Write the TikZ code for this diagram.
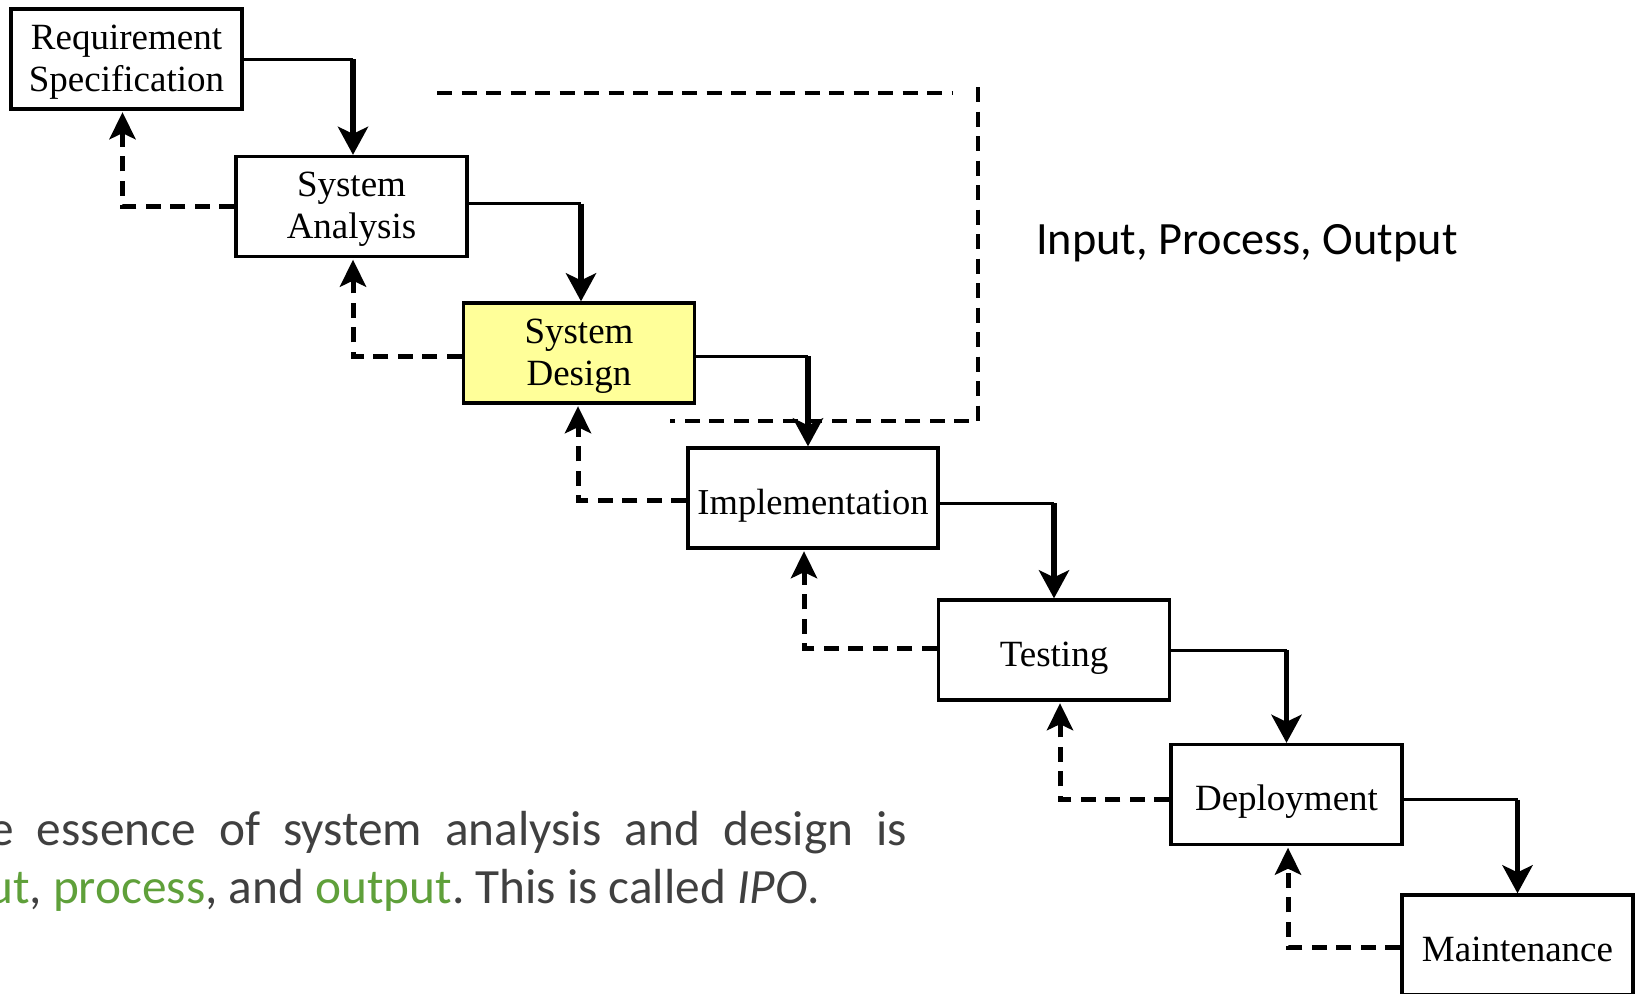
\documentclass[tikz,border=0pt]{standalone}
\usepackage{fontspec}
\usetikzlibrary{arrows.meta}
\newfontfamily\boxfont{Liberation Serif}
\newfontfamily\bodyfont{Carlito}
\definecolor{txtgray}{HTML}{404040}
\definecolor{ipogreen}{HTML}{5FA03A}
\definecolor{hilite}{HTML}{FFFF99}
% two stacked lines whose baseline is that of the first line
\newcommand{\twolines}[2]{\begin{tabular}[t]{@{}c@{}}#1\\#2\end{tabular}}

\begin{document}
\frenchspacing
\begin{tikzpicture}[x=1pt, y=-1pt,
  box/.style={draw, line width=3.3pt, minimum width=231pt, minimum height=100pt,
    inner sep=0pt, font=\boxfont\fontsize{37}{42}\selectfont},
  oneline/.style={text height=32pt, text depth=0pt},
  twoline/.style={text height=30pt, text depth=50pt},
  fwdh/.style={line width=3pt},
  fwdv/.style={line width=5.5pt, -{Stealth[length=28pt, width=30pt, inset=7pt]}},
  back/.style={line width=5pt, dash pattern=on 15pt off 9.5pt, shorten >=1.5pt,
    -{Stealth[length=27pt, width=26pt, inset=6pt]}},
  loop/.style={line width=4.2pt, dash pattern=on 15pt off 9.5pt}]

\useasboundingbox (0,0) rectangle (1638,993);

% phases of the waterfall
\node[box, twoline] (req) at (126.5,59) {\twolines{Requirement}{Specification}};
\node[box, twoline] (sa) at (351.5,206.5) {\twolines{System}{Analysis}};
\node[box, twoline, fill=hilite] (sd) at (579,353) {\twolines{System}{Design}};
\node[box, oneline, minimum width=250pt,
  font=\boxfont\fontsize{36.5}{42}\selectfont] (impl) at (813,498) {Implementation};
\node[box, oneline] (test) at (1054,650) {Testing};
\node[box, oneline] (dep) at (1286.5,794.5) {Deployment};
\node[box, oneline] (mnt) at (1517.5,945) {Maintenance};

% forward flow: thin run to the right, heavy drop onto the next phase
\foreach \a/\b/\dx/\dy in {req/sa/1.5/0, sa/sd/2/3, sd/impl/-5/-3, impl/test/0/-5,
                           test/dep/0/0, dep/mnt/0/-5} {
  \coordinate (out-\a) at ([yshift=\dy pt]\a.east);
  \coordinate (in-\b) at ([xshift=\dx pt]\b.north);
  \draw[fwdh] (out-\a) -- (out-\a -| in-\b);
  \draw[fwdv] (out-\a -| in-\b) -- (in-\b);
}

% feedback: dashed return to the previous phase
\foreach \a/\b/\dx/\dy in {sa/req/-4/0, sd/sa/1.5/-3, impl/sd/-1/-2, test/impl/-9/2,
                           dep/test/6/-5, mnt/dep/1.5/-2} {
  \coordinate (ret-\a) at ([yshift=\dy pt]\a.west);
  \coordinate (up-\b) at ([xshift=\dx pt]\b.south);
  \draw[back] (ret-\a) -| (up-\b);
}

% dashed frame round the analysis and design phases
\coordinate (fa) at (437,93);
\coordinate (fb) at (952,93);
\coordinate (fc) at (978,87);
\coordinate (fd) at (978,421);
\coordinate (fe) at (670,421);
\draw[loop] (fa) -- (fb);
\draw[loop] (fc) -- (fd) -- (fe);

\node[anchor=base west, inner sep=0pt, font=\bodyfont\fontsize{46.3}{55}\selectfont]
  (ipo) at (1036,254) {Input, Process, Output};

% explanatory text
\node[anchor=base west, inner sep=0pt, text=txtgray,
  font=\bodyfont\fontsize{49.3}{59}\selectfont] (line1) at (-11,845)
  {\hbox to 918pt{e\hfill essence\hfill of\hfill system\hfill analysis\hfill and\hfill design\hfill is}};
\node[anchor=base west, inner sep=0pt, text=txtgray,
  font=\bodyfont\fontsize{49.3}{59}\selectfont] (line2) at (-13,903)
  {\textcolor{ipogreen}{ut}, \textcolor{ipogreen}{process}, and \textcolor{ipogreen}{output}. This is called \textit{IPO}.};
\end{tikzpicture}
\end{document}
